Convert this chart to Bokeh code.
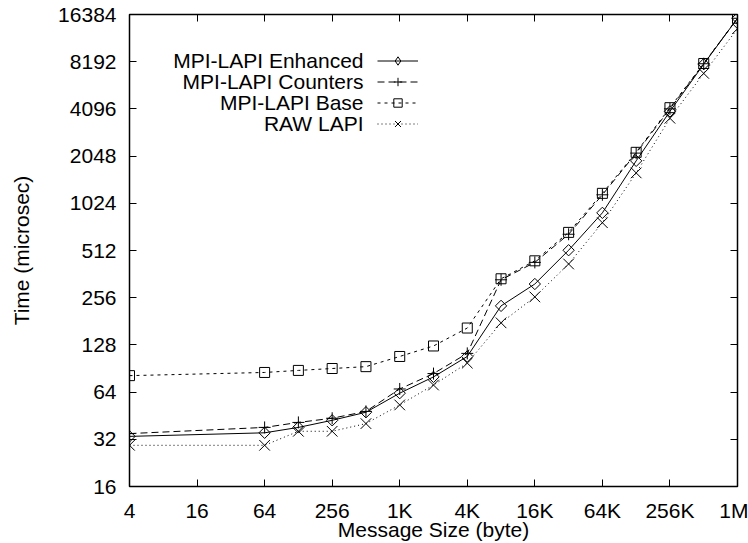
import math
from bokeh.plotting import figure
from bokeh.models import (LogAxis, FixedTicker, Legend, LegendItem, Label, Range1d)
from bokeh.core.properties import value
from bokeh.embed import file_html
from bokeh.resources import INLINE

# ---- data ----
sizes = [4, 64, 128, 256, 512, 1024, 2048, 4096, 8192, 16384, 32768,
         65536, 131072, 262144, 524288, 1048576]
enhanced = [33.4, 35.2, 38.1, 42.3, 47.6, 63, 80, 108, 227, 313, 514,
            890, 1910, 3950, 7900, 15500]
counters = [34.8, 38.1, 41.0, 43.6, 48.2, 67, 84, 113, 333, 430, 650,
            1160, 2140, 4100, 7950, 15500]
base = [81.5, 85.4, 88.0, 90.5, 93.0, 108, 126, 164, 338, 440, 668,
        1185, 2165, 4170, 7980, 15500]
raw = [29.3, 29.3, 36.0, 36.0, 40.3, 53, 71, 98, 177, 259, 420,
       770, 1600, 3570, 6900, 13300]

series_names = ["MPI-LAPI Enhanced", "MPI-LAPI Counters", "MPI-LAPI Base", "RAW LAPI"]

x_ticks = [4, 16, 64, 256, 1024, 4096, 16384, 65536, 262144, 1048576]
x_tick_labels = ["4", "16", "64", "256", "1K", "4K", "16K", "64K", "256K", "1M"]
y_ticks = [16, 32, 64, 128, 256, 512, 1024, 2048, 4096, 8192, 16384]
y_tick_labels = [str(t) for t in y_ticks]

FONT = "Liberation Sans"
FS = "21px"

p = figure(width=748, height=543, x_axis_type="log", y_axis_type="log",
           x_range=Range1d(4, 1048576), y_range=Range1d(16, 16384),
           output_backend="svg", toolbar_location=None,
           min_border_left=129, min_border_right=11, min_border_top=14,
           min_border_bottom=56)

p.xgrid.visible = False
p.ygrid.visible = False
p.outline_line_color = "black"
p.outline_line_width = 1.5
p.outline_line_alpha = 1.0
p.background_fill_color = "white"
p.border_fill_color = "white"

def style_axis(ax, ticks, labels):
    ax.ticker = FixedTicker(ticks=ticks)
    ax.major_label_overrides = {t: l for t, l in zip(ticks, labels)}
    ax.major_tick_in = 7
    ax.major_tick_out = 0
    ax.major_tick_line_color = "black"
    ax.major_tick_line_width = 1
    ax.minor_tick_line_color = None
    ax.axis_line_color = None
    ax.major_label_text_font = FONT
    ax.major_label_text_font_size = FS
    ax.major_label_text_color = "black"
    ax.axis_label_text_font = FONT
    ax.axis_label_text_font_size = FS
    ax.axis_label_text_font_style = "normal"
    ax.axis_label_text_color = "black"

xa = p.xaxis[0]
style_axis(xa, x_ticks, x_tick_labels)
xa.axis_label = "Message Size (byte)"
xa.major_label_standoff = 12
xa.axis_label_standoff = -7

ya = p.yaxis[0]
style_axis(ya, y_ticks, y_tick_labels)
ya.axis_label = "Time (microsec)"
ya.major_label_standoff = 13
ya.axis_label_standoff = 22

# mirrored tick marks on top and right
top = LogAxis()
style_axis(top, x_ticks, ["" for _ in x_ticks])
top.major_label_standoff = 0
top.axis_label_standoff = 0
top.major_label_text_font_size = "0px"
p.add_layout(top, "above")

right = LogAxis()
style_axis(right, y_ticks, ["" for _ in y_ticks])
right.major_label_standoff = 0
right.axis_label_standoff = 0
right.major_label_text_font_size = "0px"
p.add_layout(right, "right")

styles = [
    (enhanced, None, "square", 8, math.pi / 4),
    (counters, "7 4", "cross", 12, 0),
    (base, "3 4", "square", 10, 0),
    (raw, "1 3", "x", 15, 0),
]

items = []
for i, (vals, dash, marker, size, ang) in enumerate(styles):
    kw = {}
    if dash is not None:
        kw["line_dash"] = dash
    ln = p.line(sizes, vals, line_color="black", line_width=1, **kw)
    sc = p.scatter(sizes, vals, marker=marker, size=size, angle=ang,
                   line_color="black", fill_color=None, line_width=1)
    if i == 0:
        # diamond sample for the key only (hidden in the plot area)
        key_sc = p.scatter(sizes, vals, marker="diamond", size=14,
                           line_color="black", fill_color=None, line_width=1,
                           visible=False)
        items.append(LegendItem(label=value(""), renderers=[ln, key_sc]))
    else:
        items.append(LegendItem(label=value(""), renderers=[ln, sc]))

legend = Legend(items=items, location=(248, 352), glyph_width=41, glyph_height=21,
                label_height=21, label_width=0, label_standoff=0, spacing=0,
                padding=0, margin=0, border_line_color=None,
                background_fill_alpha=0, inactive_fill_alpha=0)
p.add_layout(legend, "center")

row_y = [426, 405, 384, 363]
for name, yy in zip(series_names, row_y):
    p.add_layout(Label(x=234, y=yy, x_units="screen", y_units="screen", text=name,
                       text_align="right", text_baseline="middle",
                       text_font=FONT, text_font_size=FS,
                       text_color="black"))

open("out.html", "w").write(file_html(p, INLINE))
